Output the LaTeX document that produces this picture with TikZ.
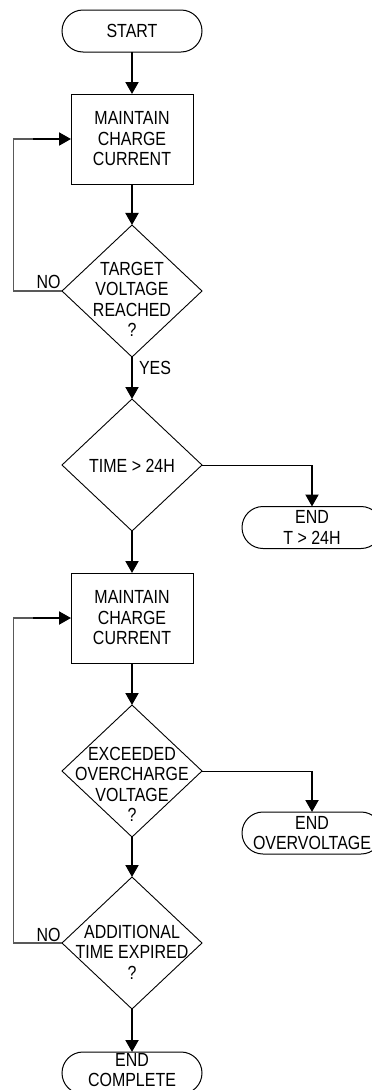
\documentclass[tikz,border=0pt]{standalone}
\usepackage{fontspec}
\setmainfont{Liberation Sans}[FakeStretch=0.84]
\usetikzlibrary{shapes.geometric,arrows.meta,calc}
\tikzset{
  every node/.style={font=\fontsize{19}{20.5}\selectfont, outer sep=0pt},
  term/.style={draw, line width=1pt, rectangle, rounded corners=21pt, minimum width=140pt, minimum height=42pt, align=center, inner sep=0pt},
  procbox/.style={draw, line width=1pt, rectangle, minimum width=122pt, minimum height=90pt, align=center, inner sep=0pt},
  dia/.style={draw, line width=0.9pt, diamond, minimum width=140pt, minimum height=132pt, inner sep=0pt},
  diatext/.style={align=center, inner sep=0pt},
  lbl/.style={inner sep=0pt},
  arr/.style={line width=2pt, -{Triangle[width=13pt,length=12pt]}},
  thinline/.style={line width=1pt},
  loopline/.style={line width=1.2pt, draw=black!65},
}
\begin{document}
\begin{tikzpicture}[x=1pt,y=-1pt]
\useasboundingbox[fill=white] (0,0) rectangle (372,1090);
% nodes
\node[term] (start) at (132,31) {START};
\node[procbox] (box1) at (132,139) {MAINTAIN\\CHARGE\\CURRENT};
\node[dia] (d1) at (132,291) {};
\node[diatext] (d1t) at (132,299.5) {TARGET\\VOLTAGE\\REACHED\\?};
\node[dia] (d2) at (132,465) {};
\node[diatext] (d2t) at (132,466) {TIME > 24H};
\node[term] (e1) at (312,527.5) {END\\T > 24H};
\node[procbox] (box2) at (132,618) {MAINTAIN\\CHARGE\\CURRENT};
\node[dia] (d3) at (132,771) {};
\node[diatext] (d3t) at (132,784.5) {EXCEEDED\\OVERCHARGE\\VOLTAGE\\?};
\node[term] (e2) at (312,833) {END\\OVERVOLTAGE};
\node[dia] (d4) at (132,943) {};
\node[diatext] (d4t) at (132,952) {ADDITIONAL\\TIME EXPIRED\\?};
\node[term] (e3) at (132,1073) {};
\node[diatext] (e3t) at (132,1070) {END\\COMPLETE};
% labels
\node[lbl] (no1) at (48.5,282) {NO};
\node[lbl] (yes1) at (155,368) {YES};
\node[lbl] (no2) at (48.5,935) {NO};
% main flow
\draw[arr] (start) -- (box1);
\draw[arr] (box1) -- (d1);
\draw[arr] (d1) -- (d2);
\draw[arr] (d2) -- (box2);
\draw[arr] (box2) -- (d3);
\draw[arr] (d3) -- (d4);
\draw[arr] (d4) -- (e3);
% right branches
\coordinate (c1) at (e1.north |- d2.east);
\draw[thinline] (d2.east) -- (c1);
\draw[arr] (c1) -- (e1.north);
\coordinate (c2) at (e2.north |- d3.east);
\draw[thinline] (d3.east) -- (c2);
\draw[arr] (c2) -- (e2.north);
% loops
\coordinate (k1) at ($(box1.west)+(-57.5,0)$);
\coordinate (m1) at ($(box1.west)+(-38,0)$);
\draw[loopline] (d1.west) -| (k1) -- (m1);
\draw[arr] (m1) -- (box1.west);
\coordinate (k2) at ($(box2.west)+(-57.5,0)$);
\coordinate (m2) at ($(box2.west)+(-38,0)$);
\draw[loopline] (d4.west) -| (k2) -- (m2);
\draw[arr] (m2) -- (box2.west);
\end{tikzpicture}
\end{document}
